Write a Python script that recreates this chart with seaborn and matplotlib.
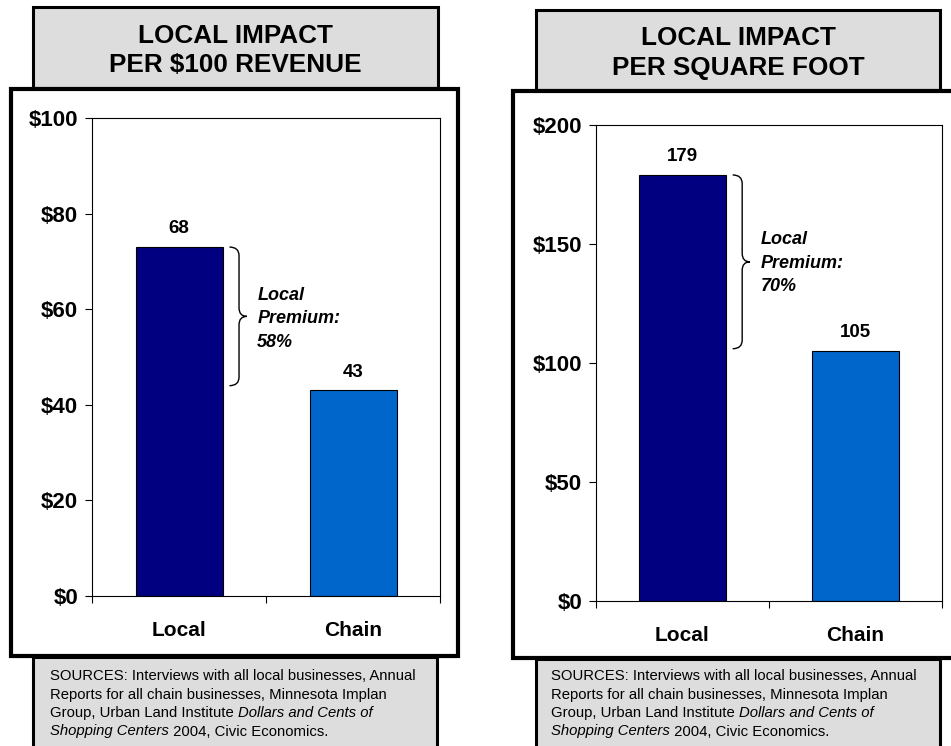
import matplotlib
matplotlib.use("Agg")
import matplotlib.pyplot as plt
from matplotlib.patches import Rectangle, PathPatch
from matplotlib.path import Path
import seaborn as sns
import pandas as pd

# data
categories = ["Local", "Chain"]
revenue_bars = [73, 43]          # drawn bar heights (left panel)
revenue_labels = ["68", "43"]    # printed labels
sqft_bars = [179, 105]
sqft_labels = ["179", "105"]
revenue_ticks = [0, 20, 40, 60, 80, 100]
sqft_ticks = [0, 50, 100, 150, 200]
premium_revenue = "Local\nPremium:\n58%"
premium_sqft = "Local\nPremium:\n70%"
titles = ["LOCAL IMPACT\nPER $100 REVENUE", "LOCAL IMPACT\nPER SQUARE FOOT"]
bar_colors = ["#000080", "#0066CC"]

sns.set_style("white")
plt.rcParams['font.family'] = ['Liberation Sans', 'DejaVu Sans']
plt.rcParams.update({"text.color": "black", "axes.labelcolor": "black",
                     "xtick.color": "black", "ytick.color": "black"})

W, H = 951, 746
fig = plt.figure(figsize=(W / 100, H / 100), dpi=100)


def fbox(x0, y0, x1, y1):
    # pixel box -> figure fraction (left, bottom, width, height)
    return x0 / W, 1 - y1 / H, (x1 - x0) / W, (y1 - y0) / H


def rect(x0, y0, x1, y1, fc, lw, z):
    l, b, w, h = fbox(x0, y0, x1, y1)
    fig.patches.append(Rectangle((l, b), w, h, transform=fig.transFigure,
                                 facecolor=fc, edgecolor="black", linewidth=lw,
                                 zorder=z))


def brace(ax, x0, x1, x2, bottom, top, r):
    mid = (bottom + top) / 2
    verts = [(x0, top), (x1, top), (x1, top - r),
             (x1, mid + r), (x1, mid), (x2, mid),
             (x1, mid), (x1, mid - r),
             (x1, bottom + r), (x1, bottom), (x0, bottom)]
    codes = [Path.MOVETO, Path.CURVE3, Path.CURVE3,
             Path.LINETO, Path.CURVE3, Path.CURVE3,
             Path.CURVE3, Path.CURVE3,
             Path.LINETO, Path.CURVE3, Path.CURVE3]
    ax.add_patch(PathPatch(Path(verts, codes), fill=False, lw=1.0,
                           edgecolor="black", clip_on=False, zorder=5))


def source_text(x, y):
    lines = [
        [("SOURCES: Interviews with all local businesses, Annual", "normal")],
        [("Reports for all chain businesses, Minnesota Implan", "normal")],
        [("Group, Urban Land Institute ", "normal"), ("Dollars and Cents of", "italic")],
        [("Shopping Centers", "italic"), (" 2004, Civic Economics.", "normal")],
    ]
    fig.canvas.draw()
    r = fig.canvas.get_renderer()
    for i, segs in enumerate(lines):
        cx = x
        for txt, style in segs:
            t = fig.text(cx / W, 1 - (y + i * 18.5) / H, txt, fontsize=10.7,
                         style=style, va="center", ha="left", zorder=10)
            bb = t.get_window_extent(renderer=r)
            cx += bb.width


panels = [
    dict(title_box=(33, 7, 438, 88), chart_box=(11, 89, 458, 656),
         src_box=(33, 657, 437, 770), axes=(92, 118, 440, 596),
         bars=revenue_bars, labels=revenue_labels, ticks=revenue_ticks,
         premium=premium_revenue, title=titles[0], src_x=50),
    dict(title_box=(536, 10, 940, 90), chart_box=(513, 91, 975, 658),
         src_box=(536, 659, 940, 770), axes=(596, 125, 942, 601),
         bars=sqft_bars, labels=sqft_labels, ticks=sqft_ticks,
         premium=premium_sqft, title=titles[1], src_x=551),
]

for p in panels:
    tx0, ty0, tx1, ty1 = p["title_box"]
    rect(tx0, ty0, tx1, ty1, "#DDDDDD", 2.2, 0)
    fig.text((tx0 + tx1) / 2 / W, 1 - ((ty0 + ty1) / 2 + 3) / H, p["title"],
             ha="center", va="center", fontsize=18.8, fontweight="bold",
             linespacing=1.3, zorder=10)
    rect(*p["src_box"], "#DDDDDD", 2.2, 0)
    rect(*p["chart_box"], "white", 3.0, 1)

    ax = fig.add_axes(fbox(*p["axes"]))
    ax.set_zorder(3)
    df = pd.DataFrame({"cat": categories, "val": p["bars"]})
    sns.barplot(data=df, x="cat", y="val", hue="cat", palette=bar_colors,
                saturation=1, width=0.5, edgecolor="black", linewidth=0.8,
                legend=False, ax=ax)
    ymax = p["ticks"][-1]
    ax.set_ylim(0, ymax)
    ax.set_xlim(-0.5, 1.5)
    ax.set_yticks(p["ticks"])
    ax.set_yticklabels([f"${t}" for t in p["ticks"]], fontsize=16, fontweight="bold")
    ax.set_xticks([-0.5, 0.5, 1.5])
    ax.set_xticklabels([])
    ax.set_xticks([0, 1], minor=True)
    ax.set_xticklabels(categories, minor=True, fontsize=15, fontweight="bold")
    ax.tick_params(axis="x", which="minor", length=0, pad=18)
    ax.tick_params(axis="x", which="major", direction="out", length=5, width=0.8, bottom=True)
    ax.tick_params(axis="y", direction="out", length=5, width=0.8, left=True, pad=5)
    ax.set_xlabel("")
    ax.set_ylabel("")
    for s in ax.spines.values():
        s.set_visible(True)
        s.set_color("black")
        s.set_linewidth(0.8)
    ax.patch.set_alpha(0)

    for i, (v, lab) in enumerate(zip(p["bars"], p["labels"])):
        ax.annotate(lab, (i, v), xytext=(0, 7), textcoords="offset points",
                    ha="center", va="bottom", fontsize=13.5, fontweight="bold")

    local, chain = p["bars"]
    brace(ax, 0.29, 0.345, 0.39, chain + 1, local, 0.018 * ymax)
    ax.text(0.45, (local + chain) / 2, p["premium"], ha="left", va="center",
            fontsize=13, fontweight="bold", style="italic", linespacing=1.5)

for p in panels:
    source_text(p["src_x"], 676)

fig.savefig("out.png", dpi=100)
